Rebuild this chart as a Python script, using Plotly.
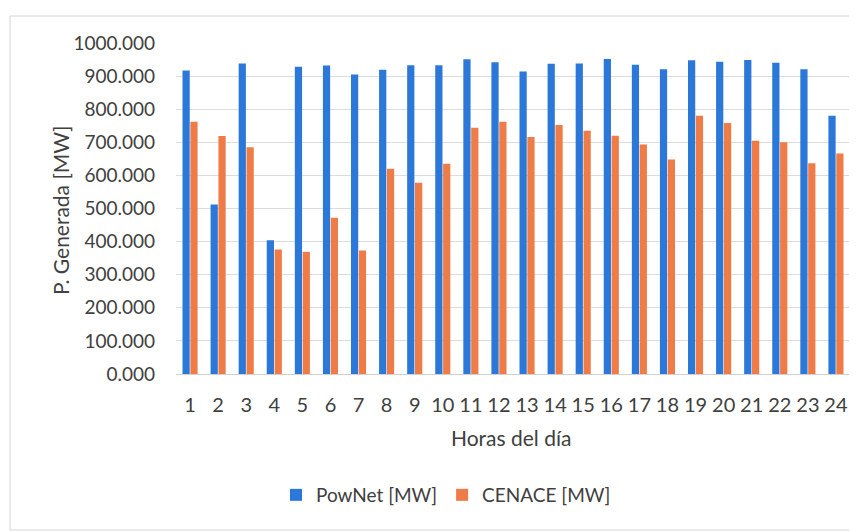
import plotly.graph_objects as go

hours = [str(h) for h in range(1, 25)]
pownet = [917, 512, 938, 404, 928, 932, 905, 919, 933, 933, 951, 942,
          914, 937, 938, 952, 934, 921, 948, 943, 949, 940, 921, 780]
cenace = [762, 719, 685, 376, 369, 472, 373, 620, 578, 635, 744, 762,
          716, 752, 735, 720, 693, 648, 780, 758, 705, 700, 637, 666]
y_ticks = [0, 100, 200, 300, 400, 500, 600, 700, 800, 900, 1000]

FONT = "Lato, 'Open Sans', sans-serif"
TXT = "#404040"

# the page body has an 8px margin; figure is sized to fit the window
OFF = 8
W, H = 857 - OFF, 532 - OFF
PL, PR, PT, PB = 176, 850, 43, 374   # plot area in window pixels
L, T = PL - OFF, PT - OFF
R, B = W - (PR - OFF), H - (PB - OFF)
pw, ph = PR - PL, PB - PT

def px(x):
    return (x - PL) / pw

def py(y):
    return (PB - y) / ph

fig = go.Figure()
fig.add_trace(go.Bar(x=hours, y=pownet, name="PowNet [MW]", marker_color="#2b78d8",
                     marker_line_width=0))
fig.add_trace(go.Bar(x=hours, y=cenace, name="CENACE [MW]", marker_color="#ef7b47",
                     marker_line_width=0))

fig.update_layout(
    width=W, height=H,
    margin=dict(l=L, r=R, t=T, b=B, pad=0),
    paper_bgcolor="white", plot_bgcolor="white",
    barmode="group", bargap=0.44, bargroupgap=0.08,
    font=dict(family=FONT, color=TXT, size=16),
    showlegend=True,
    legend=dict(orientation="h", x=px(446), xanchor="center", y=py(495), yanchor="middle",
                font=dict(size=19, color=TXT), itemwidth=30, traceorder="normal"),
    xaxis=dict(showgrid=False, showline=True, linecolor="#d0d0d0", linewidth=1,
               ticks="", tickfont=dict(size=20, color=TXT), ticklabelstandoff=13),
    yaxis=dict(range=[0, 1000], tickvals=y_ticks, tickformat=".3f",
               showgrid=True, gridcolor="#dcdcdc", gridwidth=1, zeroline=False,
               showline=False, ticks="", tickfont=dict(size=19, color=TXT),
               ticklabelstandoff=20),
    annotations=[
        dict(text="Horas del día", xref="paper", yref="paper", x=px(511), y=py(437),
             xanchor="center", yanchor="middle", showarrow=False,
             font=dict(size=21, color=TXT)),
        dict(text="P. Generada [MW]", xref="paper", yref="paper", x=px(60), y=py(210),
             xanchor="center", yanchor="middle", showarrow=False, textangle=-90,
             font=dict(size=21, color=TXT)),
    ],
    shapes=[
        dict(type="rect", xref="paper", yref="paper", x0=px(10), x1=px(855),
             y0=py(530), y1=py(16), line=dict(color="#d4d4d4", width=1), layer="below"),
    ],
)

fig.write_html("out.html")
